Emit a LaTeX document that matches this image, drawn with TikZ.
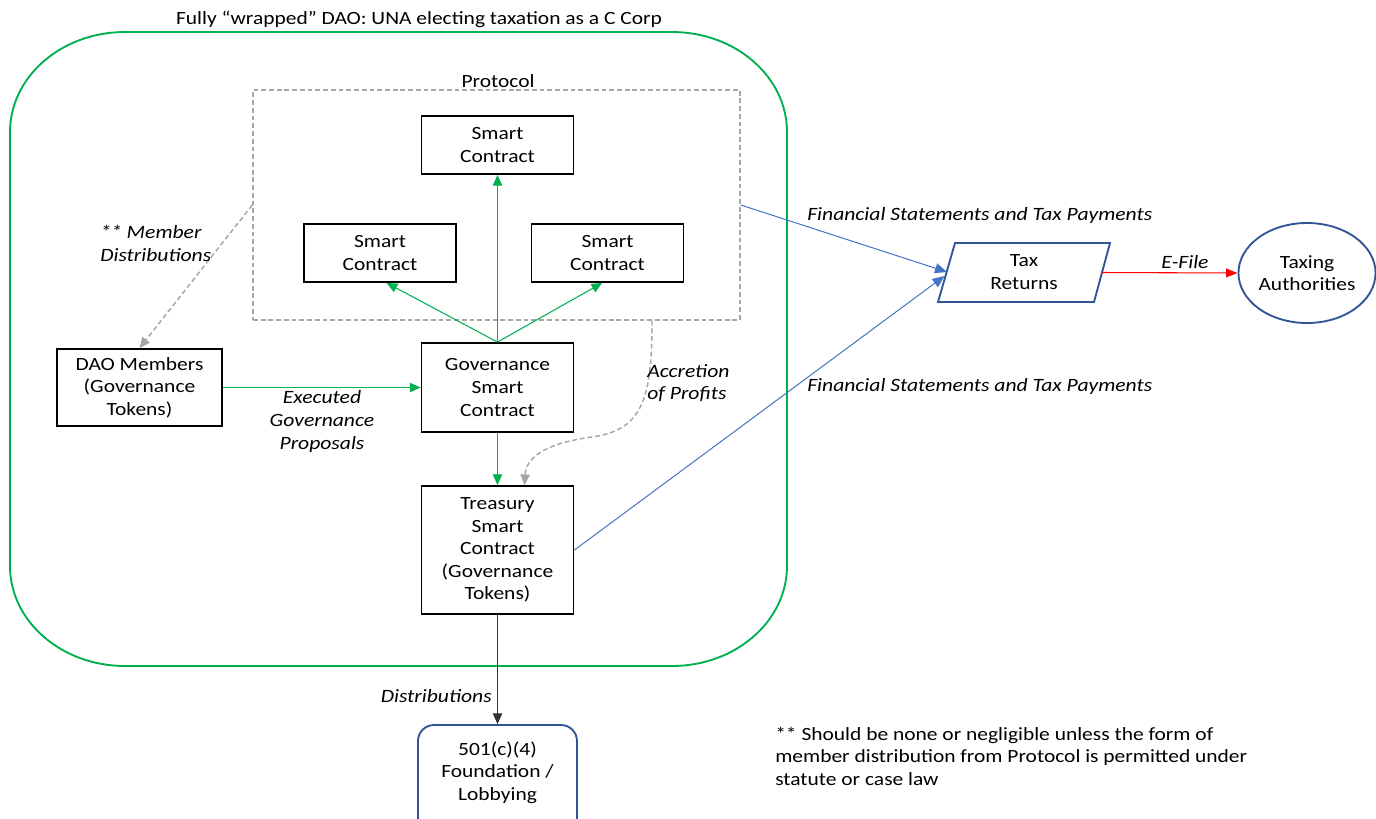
\documentclass[tikz,border=0pt]{standalone}
\usepackage{fontspec}
\setmainfont[FakeStretch=1.15]{Carlito}
\usetikzlibrary{arrows.meta,shapes.geometric}
\definecolor{pptgreen}{HTML}{00B050}
\definecolor{pptblue}{HTML}{4472C4}
\definecolor{darkblue}{HTML}{2F5597}
\definecolor{dgray}{HTML}{A6A6A6}
\definecolor{pptred}{HTML}{FF0000}
\tikzset{
  box/.style={draw=black, line width=1.4pt, inner sep=0pt, align=center, minimum width=152*0.75pt, fill=white},
  protobox/.style={draw=dgray, line width=1.1pt, dash pattern=on 3.6pt off 2.2pt, inner sep=0pt},
  outerline/.style={draw=pptgreen, line width=1.4pt},
  garrow/.style={draw=pptgreen, line width=0.8pt, -{Triangle[length=8pt,width=7pt]}},
  gyarrow/.style={draw=dgray, line width=1.1pt, dash pattern=on 3.6pt off 2.2pt, -{Triangle[length=8pt,width=7pt]}},
  barrow/.style={draw=pptblue, line width=0.75pt, -{Triangle[length=9pt,width=7.5pt]}},
  rarrow/.style={draw=pptred, line width=0.8pt, -{Triangle[length=8.5pt,width=6.5pt]}},
  karrow/.style={draw=black!80, line width=0.8pt, -{Triangle[length=8pt,width=7pt]}},
  lbl/.style={font=\fontsize{14.1}{16.9}\selectfont\itshape, inner sep=0pt, align=left},
  dbshape/.style={draw=darkblue, line width=1.4pt, inner sep=0pt, align=center},
}
\begin{document}
\begin{tikzpicture}[x=0.75pt,y=-0.75pt, font=\fontsize{14}{16.9}\selectfont]
\useasboundingbox (0,0) rectangle (1376,818);
% outer wrapper
\draw[outerline] (125,32) -- (672,32)
  arc[start angle=-90,end angle=0,x radius=115,y radius=100] -- (787,566)
  arc[start angle=0,end angle=90,x radius=115,y radius=100] -- (125,666)
  arc[start angle=90,end angle=180,x radius=115,y radius=100] -- (10,132)
  arc[start angle=180,end angle=270,x radius=115,y radius=100] -- cycle;
\node[inner sep=0pt] (title) at (419,19) {Fully “wrapped” DAO: UNA electing taxation as a C Corp};
% protocol
\node[protobox, minimum width=487*0.75pt, minimum height=230*0.75pt] (proto) at (496.5,205) {};
\node[inner sep=0pt] (protolbl) at (498,81) {Protocol};
% boxes
\node[box, minimum height=58*0.75pt] (sc1) at (497.5,145) {Smart\\Contract};
\node[box, minimum height=58*0.75pt] (sc2) at (380,253) {Smart\\Contract};
\node[box, minimum height=58*0.75pt] (sc3) at (607.5,253) {Smart\\Contract};
\node[box, minimum height=89*0.75pt] (gov) at (497.5,387.5) {Governance\\Smart\\Contract};
\node[box, minimum height=128*0.75pt] (tre) at (497.5,550) {Treasury\\Smart\\Contract\\(Governance\\Tokens)};
\node[box, minimum width=165*0.75pt, minimum height=77*0.75pt] (dao) at (139.5,387.5) {DAO Members\\(Governance\\Tokens)};
% foundation
\node[draw=darkblue, line width=1.4pt, rounded corners=16*0.75pt, minimum width=159*0.75pt, minimum height=110*0.75pt] (found) at (497.5,780) {};
\node[inner sep=0pt, align=center] (foundtxt) at (497.5,772.5) {501(c)(4)\\Foundation /\\Lobbying};
% tax returns parallelogram
\draw[draw=darkblue, line width=1.4pt] (955,243) -- (1110,243) -- (1094,302) -- (938,302) -- cycle;
\node[inner sep=0pt, align=center] (tax) at (1024,272) {Tax\\Returns};
\coordinate (taxin1) at (947,272);
\coordinate (taxin2) at (944.5,276);
\coordinate (taxout) at (1102,272.5);
% taxing authorities
\node[ellipse, dbshape, minimum width=118*0.75pt, minimum height=100*0.75pt] (auth) at (1307,273) {Taxing\\Authorities};
% connectors
\draw[garrow] (gov.north) -- (sc1.south);
\draw[garrow] (gov.north) -- ([xshift=5pt]sc2.south);
\draw[garrow] (gov.north) -- ([xshift=-4pt]sc3.south);
\draw[garrow] (dao.east) -- (gov.west);
\draw[garrow] (gov.south) -- (tre.north);
\draw[gyarrow] (proto.west) -- (dao.north);
\draw[gyarrow] ([xshift=155.5*0.75pt]proto.south) .. controls (652,400) and (642,430) .. (592,437)
   .. controls (540,444) and (526,460) .. ([xshift=27*0.75pt]tre.north);
\draw[barrow] (proto.east) -- (taxin1);
\draw[barrow] (tre.east) -- (taxin2);
\draw[rarrow] (taxout) -- (auth.west);
\draw[karrow] (tre.south) -- (found.north);
% labels
\node[lbl, anchor=west] (lmember) at (100,243.5) {** Member\\Distributions};
\node[lbl, align=center] (lexec) at (322,421.5) {Executed\\Governance\\Proposals};
\node[lbl, anchor=west] (laccr) at (647,383) {Accretion\\of Profits};
\node[lbl, anchor=west] (lfin1) at (807,215) {Financial Statements and Tax Payments};
\node[lbl, anchor=west] (lfin2) at (807,386) {Financial Statements and Tax Payments};
\node[lbl] (lefile) at (1185,262) {E-File};
\node[lbl, anchor=east] (ldist) at (492,696) {Distributions};
\node[inner sep=0pt, align=left, anchor=west] (note) at (775,756) {** Should be none or negligible unless the form of\\member distribution from Protocol is permitted under\\statute or case law};
\end{tikzpicture}
\end{document}
